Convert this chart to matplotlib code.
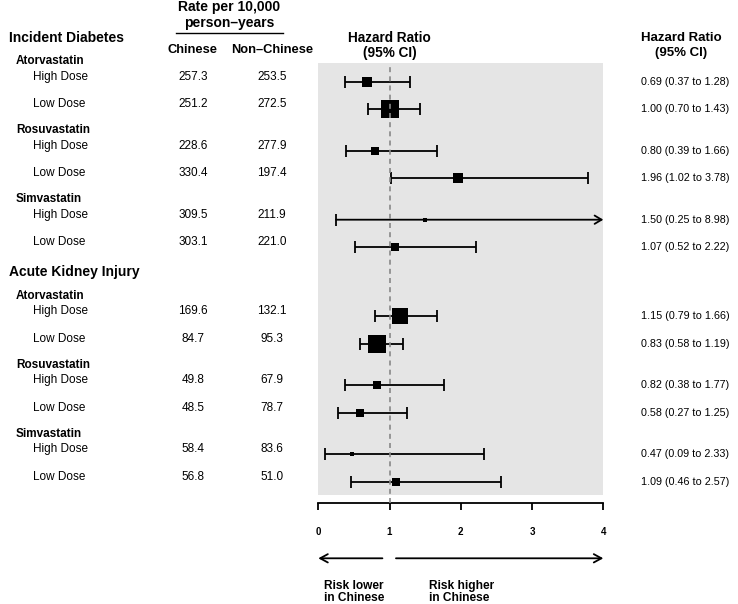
import numpy as np
import matplotlib
matplotlib.use("Agg")
import matplotlib.pyplot as plt
from matplotlib import transforms
from matplotlib.lines import Line2D

plt.rcParams['font.family'] = ['Liberation Sans', 'DejaVu Sans']

# ---------------- data ----------------
outcomes = ["Incident Diabetes", "Acute Kidney Injury"]
drugs = ["Atorvastatin", "Rosuvastatin", "Simvastatin"]
doses = ["High Dose", "Low Dose"]
rate_chinese = [257.3, 251.2, 228.6, 330.4, 309.5, 303.1,
                169.6, 84.7, 49.8, 48.5, 58.4, 56.8]
rate_non_chinese = [253.5, 272.5, 277.9, 197.4, 211.9, 221.0,
                    132.1, 95.3, 67.9, 78.7, 83.6, 51.0]
hr = [0.69, 1.00, 0.80, 1.96, 1.50, 1.07,
      1.15, 0.83, 0.82, 0.58, 0.47, 1.09]
ci_low = [0.37, 0.70, 0.39, 1.02, 0.25, 0.52,
          0.79, 0.58, 0.38, 0.27, 0.09, 0.46]
ci_high = [1.28, 1.43, 1.66, 3.78, 8.98, 2.22,
           1.66, 1.19, 1.77, 1.25, 2.33, 2.57]
x_ticks = [0, 1, 2, 3, 4]
x_max = 4

# ---------------- layout ----------------
W, H = 738, 604
PX_ROW = 13.8           # pixels per layout unit
ROW0_PX = 81.7          # pixel y of first marker row
PANEL = (318.3, 63.3, 603.3, 495.0)   # left, top, right, bottom in px


def u(px):
    """pixel y -> layout unit"""
    return (px - ROW0_PX) / PX_ROW


fig = plt.figure(figsize=(W / 100, H / 100), dpi=100)
ax = fig.add_axes([PANEL[0] / W, 1 - PANEL[3] / H,
                   (PANEL[2] - PANEL[0]) / W, (PANEL[3] - PANEL[1]) / H])
ax.set_facecolor('#e5e5e5')
ax.set_xlim(0, x_max)
ax.set_ylim(u(PANEL[3]), u(PANEL[1]))

# row positions built from structure
row_y, drug_y, outcome_y = [], [], []
pos = 0
for oi, _ in enumerate(outcomes):
    if oi > 0:
        pos += 5
    outcome_y.append(pos - 3.2)
    for di, _ in enumerate(drugs):
        if di > 0:
            pos += 3
        drug_y.append(pos - 1.5)
        row_y.append(pos)
        row_y.append(pos + 2)
        pos += 2

# spines / axis
for s in ['top', 'left', 'right']:
    ax.spines[s].set_visible(False)
ax.spines['bottom'].set_position(('outward', 8 * 0.72))
ax.spines['bottom'].set_linewidth(1.3)
ax.set_yticks([])
ax.set_xticks(x_ticks)
ax.set_xticklabels([str(t) for t in x_ticks], fontsize=7, fontweight='bold')
ax.tick_params(axis='x', length=5, width=1.3, pad=12, direction='out')

# reference line
ax.axvline(1, ymin=-8 / (PANEL[3] - PANEL[1]), ymax=1, clip_on=False,
           color='#888888', lw=1.2, ls=(0, (3, 2.5)), zorder=5)

# CIs and boxes
K = 12.4  # box side (px) * log CI width
lw = 1.3
for y, h, lo, hi in zip(row_y, hr, ci_low, ci_high):
    hi_d = min(hi, x_max)
    if hi > x_max:
        ax.annotate('', xy=(hi_d, y), xytext=(lo, y),
                    arrowprops=dict(arrowstyle='->,head_length=0.5,head_width=0.3',
                                    lw=lw, color='black', shrinkA=0, shrinkB=0),
                    annotation_clip=False, zorder=3)
    else:
        ax.plot([lo, hi_d], [y, y], color='black', lw=lw, zorder=3,
                solid_capstyle='butt')
        ax.plot([hi_d], [y], marker='|', ms=8.6, mew=lw, color='black', zorder=3)
    ax.plot([lo], [y], marker='|', ms=8.6, mew=lw, color='black', zorder=3,
            clip_on=False)
    side_px = K / np.log(hi / lo)
    ax.plot([h], [y], marker='s', ms=side_px * 0.72, mew=0, color='black',
            zorder=4)

# text columns
tr = transforms.blended_transform_factory(fig.transFigure, ax.transData)
TOFF = -0.36
for name, y in zip(outcomes, outcome_y):
    ax.text(9 / W, y, name, transform=tr, fontsize=10, fontweight='bold',
            ha='left', va='center', clip_on=False)
for i, y in enumerate(drug_y):
    ax.text(16 / W, y, drugs[i % 3], transform=tr, fontsize=8.5,
            fontweight='bold', ha='left', va='center', clip_on=False)
for i, y in enumerate(row_y):
    ax.text(33 / W, y + TOFF, doses[i % 2], transform=tr, fontsize=8.5,
            ha='left', va='center', clip_on=False)
    ax.text(193 / W, y + TOFF, f"{rate_chinese[i]:.1f}", transform=tr,
            fontsize=8.5, ha='center', va='center', clip_on=False)
    ax.text(272 / W, y + TOFF, f"{rate_non_chinese[i]:.1f}", transform=tr,
            fontsize=8.5, ha='center', va='center', clip_on=False)
    ax.text(685 / W, y, f"{hr[i]:.2f} ({ci_low[i]:.2f} to {ci_high[i]:.2f})",
            transform=tr, fontsize=7.75, ha='center', va='center', clip_on=False)

# headers
hdr = dict(transform=tr, fontweight='bold', ha='center', va='center',
           clip_on=False)
ax.text(229 / W, u(6.7), "Rate per 10,000", fontsize=10, **hdr)
ax.text(229 / W, u(23), "person\u2013years", fontsize=10, **hdr)
fig.add_artist(Line2D([176 / W, 283 / W], [1 - 32.7 / H] * 2, color='black',
                      lw=1.0))
ax.text(193 / W, u(50), "Chinese", fontsize=9.3, **hdr)
ax.text(272 / W, u(50), "Non\u2013Chinese", fontsize=9.3, **hdr)
ax.text(1, u(38), "Hazard Ratio", fontsize=9.8, transform=ax.transData,
        fontweight='bold', ha='center', va='center', clip_on=False)
ax.text(1, u(53), "(95% CI)", fontsize=9.8, transform=ax.transData,
        fontweight='bold', ha='center', va='center', clip_on=False)
ax.text(681 / W, u(38), "Hazard Ratio", fontsize=9.5, **hdr)
ax.text(681 / W, u(53), "(95% CI)", fontsize=9.5, **hdr)

# direction arrows
ya = u(558.3)
ax.annotate('', xy=(0, ya), xytext=(0.90, ya),
            arrowprops=dict(arrowstyle='->,head_length=0.55,head_width=0.3',
                            lw=1.3, color='black', shrinkA=0, shrinkB=0),
            annotation_clip=False)
ax.annotate('', xy=(4.0, ya), xytext=(1.09, ya),
            arrowprops=dict(arrowstyle='->,head_length=0.55,head_width=0.3',
                            lw=1.3, color='black', shrinkA=0, shrinkB=0),
            annotation_clip=False)
for x0, lines in [(0.08, ["Risk lower", "in Chinese"]),
                  (1.56, ["Risk higher", "in Chinese"])]:
    for j, line in enumerate(lines):
        ax.text(x0, u(586 + 12.3 * j), line, fontsize=8.6, fontweight='bold',
                ha='left', va='center', clip_on=False)

fig.savefig("out.png", dpi=100)
